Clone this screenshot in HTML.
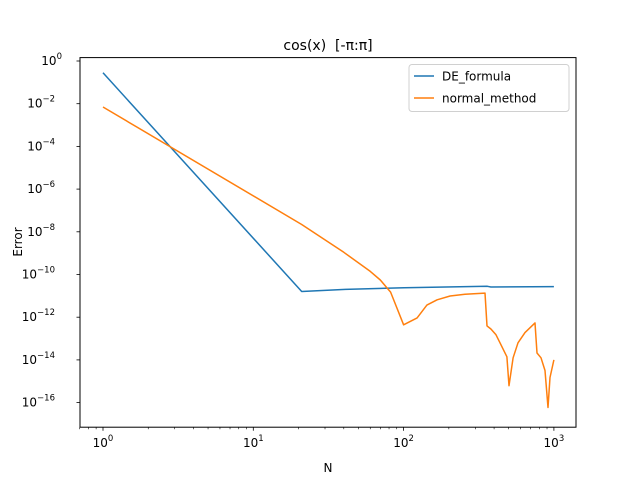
<!DOCTYPE html>
<html><head><meta charset="utf-8"><style>
body{margin:0;background:#fff}
svg{display:block;font-family:"DejaVu Sans","Liberation Sans",sans-serif}
</style></head><body>
<svg id="chart" width="640" height="480" viewBox="0 0 640 480">
<rect width="640" height="480" fill="#fff"/>
<text x="328" y="50" font-size="14" text-anchor="middle" style="white-space:pre">cos(x)  [-π:π]</text>
<g id="ticks"></g>
<g id="series"></g>
<rect x="80" y="57.6" width="496" height="369.6" fill="none" stroke="#000" stroke-width="1"/>
<text x="328" y="472" font-size="12" text-anchor="middle">N</text>
<text x="22" y="242" font-size="12" text-anchor="middle" transform="rotate(-90 22 242)">Error</text>
<g>
<rect x="409" y="64.5" width="160" height="47" rx="3" fill="#fff" stroke="#ccc" opacity="0.9"/>
<g>
<line x1="414" y1="76" x2="434" y2="76" stroke="#1f77b4" stroke-width="1.5"/>
<text x="442" y="80.5" font-size="12">DE_formula</text></g>
<g>
<line x1="414" y1="98" x2="434" y2="98" stroke="#ff7f0e" stroke-width="1.5"/>
<text x="442" y="102.5" font-size="12">normal_method</text></g>
</g>
</svg>
<script>
const deN=[1,21,41,101,361,381,1000];
const deErr=[2.8e-1,1.6e-11,2e-11,2.4e-11,2.8e-11,2.6e-11,2.7e-11];
const nmN=[1,21,40,60,70,82,100,123,143,167,204,256,348,359,381,412,438,487,503,535,577,642,749,772,821,873,914,942,1000];
const nmErr=[7e-3,2.2e-8,1.1e-9,1.4e-10,5.5e-11,1.5e-11,4.4e-13,9.3e-13,3.7e-12,6.5e-12,9.8e-12,1.2e-11,1.35e-11,3.9e-13,2.8e-13,1.5e-13,6.3e-14,1.4e-14,6.2e-16,1.26e-14,6.3e-14,1.9e-13,5.4e-13,2.1e-14,1.26e-14,3.2e-15,5.9e-17,1.5e-15,1.0e-14];
const xTickExp=[0,1,2,3];
const yTickExp=[0,-2,-4,-6,-8,-10,-12,-14,-16];
const NS="http://www.w3.org/2000/svg";
function xs(n){return 103+150.3*Math.log10(n);}
function ys(v){return 61-21.35*Math.log10(v);}
const ticks=document.getElementById('ticks');
const series=document.getElementById('series');
function mk(tag,attrs,parent){const e=document.createElementNS(NS,tag);for(const k in attrs)e.setAttribute(k,attrs[k]);parent.appendChild(e);return e;}
xTickExp.forEach(p=>{
  const x=xs(Math.pow(10,p));
  const t=mk('line',{x1:x,x2:x,y1:427.2,y2:430.7,stroke:'#000','stroke-width':0.8},ticks);
  
  
  const l=mk('text',{x:x,y:447,'font-size':12,'text-anchor':'middle'},ticks);
  
  
  l.textContent='10';
  const s=mk('tspan',{dy:-6,'font-size':8.5},l);s.textContent=String(p);
  if(p<3){for(let m=2;m<10;m++){const xm=xs(m*Math.pow(10,p));
    const mt=mk('line',{x1:xm,x2:xm,y1:427.2,y2:429.2,stroke:'#000','stroke-width':0.6},ticks);
    
    }}
});
[-1].forEach(p=>{for(let m=7;m<10;m++){const xm=xs(m*Math.pow(10,p));
  const mt=mk('line',{x1:xm,x2:xm,y1:427.2,y2:429.2,stroke:'#000','stroke-width':0.6},ticks);
  
  }});
yTickExp.forEach(p=>{
  const y=ys(Math.pow(10,p));
  const t=mk('line',{x1:76.5,x2:80,y1:y,y2:y,stroke:'#000','stroke-width':0.8},ticks);
  
  
  const l=mk('text',{x:p===0?62:55,y:y+4,'font-size':12,'text-anchor':'end'},ticks);
  
  
  l.textContent='10';
  const s=mk('tspan',{dy:-6,'font-size':8.5},l);s.textContent=p===0?'0':'\u2212'+(-p);
});
function line(N,E,color,name){
  const d=N.map((n,i)=>(i?'L':'M')+xs(n).toFixed(1)+' '+ys(E[i]).toFixed(1)).join(' ');
  const p=mk('path',{d:d,fill:'none',stroke:color,'stroke-width':1.5,'stroke-linejoin':'round'},series);
  
  
}
line(deN,deErr,'#1f77b4','de-formula-line');
line(nmN,nmErr,'#ff7f0e','normal-method-line');
</script>
</body></html>
